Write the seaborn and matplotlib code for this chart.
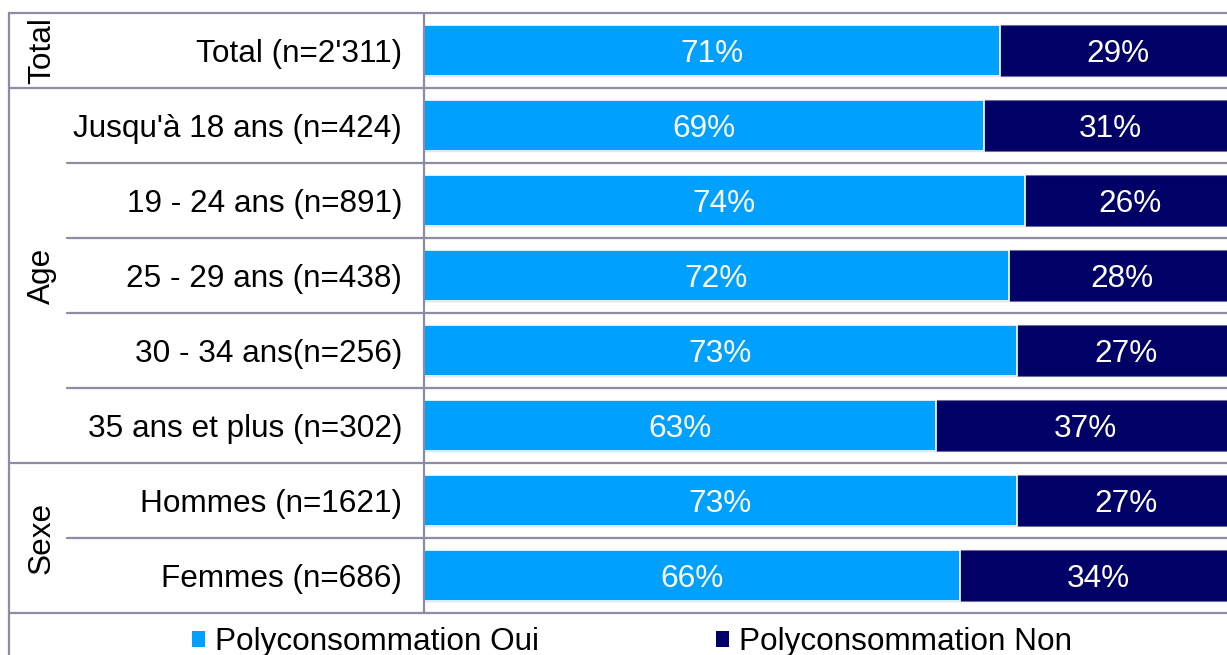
import matplotlib
matplotlib.use("Agg")
import matplotlib.pyplot as plt
from matplotlib.patches import Patch
import seaborn as sns
import pandas as pd

# Survey data: share of polyconsumption per subgroup
categories = ["Total (n=2'311)", "Jusqu'à 18 ans (n=424)", "19 - 24 ans (n=891)",
              "25 - 29 ans (n=438)", "30 - 34 ans(n=256)", "35 ans et plus (n=302)",
              "Hommes (n=1621)", "Femmes (n=686)"]
oui = [71, 69, 74, 72, 73, 63, 73, 66]
non = [29, 31, 26, 28, 27, 37, 27, 34]
groups = ["Total", "Age", "Sexe"]
group_sizes = [1, 5, 2]
series_labels = ["Polyconsommation Oui", "Polyconsommation Non"]

C_OUI = "#00A0FF"
C_NON = "#000066"
GRID = "#8C8CA5"
FS = 22.7

sns.set_theme(style="white")
plt.rcParams["font.family"] = ["Liberation Sans", "DejaVu Sans"]
plt.rcParams["text.color"] = "black"

W, H = 1227, 655
fig = plt.figure(figsize=(W / 100, H / 100), dpi=100)

# Bar panel geometry (pixels)
top, bottom, left = 13, 613, 424
ax = fig.add_axes([left / W, 1 - bottom / H, (W - left) / W, (bottom - top) / H])

df = pd.DataFrame({"cat": categories, "oui": oui, "non": non})
df["total"] = df["oui"] + df["non"]

sns.barplot(data=df, y="cat", x="total", color=C_NON, orient="h", width=0.667,
            saturation=1, edgecolor="#6E6E9A", linewidth=0.8, ax=ax)
sns.barplot(data=df, y="cat", x="oui", color=C_OUI, orient="h", width=0.667,
            saturation=1, edgecolor="white", linewidth=1.2, ax=ax)

for i, (o, n) in enumerate(zip(oui, non)):
    ax.text(o / 2, i, f"{o}%", ha="center", va="center_baseline", color="white", fontsize=FS)
    ax.text(o + n / 2, i, f"{n}%", ha="center", va="center_baseline", color="white", fontsize=FS)

ax.set_xlim(0, 98.9)
ax.set_ylim(len(categories) - 0.5, -0.5)
ax.set_xlabel("")
ax.set_ylabel("")
ax.set_xticks([])
ax.tick_params(axis="y", length=0, pad=15.8, labelsize=FS, labelcolor="black")
for s in ax.spines.values():
    s.set_visible(False)

# Table grid drawn over the whole figure in pixel coordinates
ov = fig.add_axes([0, 0, 1, 1], facecolor="none")
ov.set_xlim(0, W)
ov.set_ylim(H, 0)
ov.axis("off")
row_h = (bottom - top) / len(categories)
lw = 1.6
ov.plot([9, W], [top, top], color=GRID, lw=lw)
ov.plot([9, 9], [top, H], color=GRID, lw=lw)
ov.plot([left, left], [top, bottom], color=GRID, lw=lw)
group_x = 9 + 58 / 2 + 4
start = 0
for g, size in zip(groups, group_sizes):
    end = start + size
    y0, y1 = top + start * row_h, top + end * row_h
    ov.plot([9, W], [y1, y1], color=GRID, lw=lw)
    for k in range(start + 1, end):
        yk = top + k * row_h
        ov.plot([67, W], [yk, yk], color=GRID, lw=lw)
    ov.text(group_x, (y0 + y1) / 2, g, rotation=90, ha="center", va="center",
            fontsize=FS, color="black")
    start = end

handles = [Patch(facecolor=C_OUI, edgecolor="none"), Patch(facecolor=C_NON, edgecolor="none")]
fig.legend(handles, series_labels, loc="center", bbox_to_anchor=(632 / W, 1 - 642 / H),
           ncol=2, frameon=False, fontsize=FS, handlelength=0.42, handleheight=0.42,
           handletextpad=0.32, columnspacing=5.6, borderpad=0, labelcolor="black")

fig.savefig("out.png", dpi=100)
